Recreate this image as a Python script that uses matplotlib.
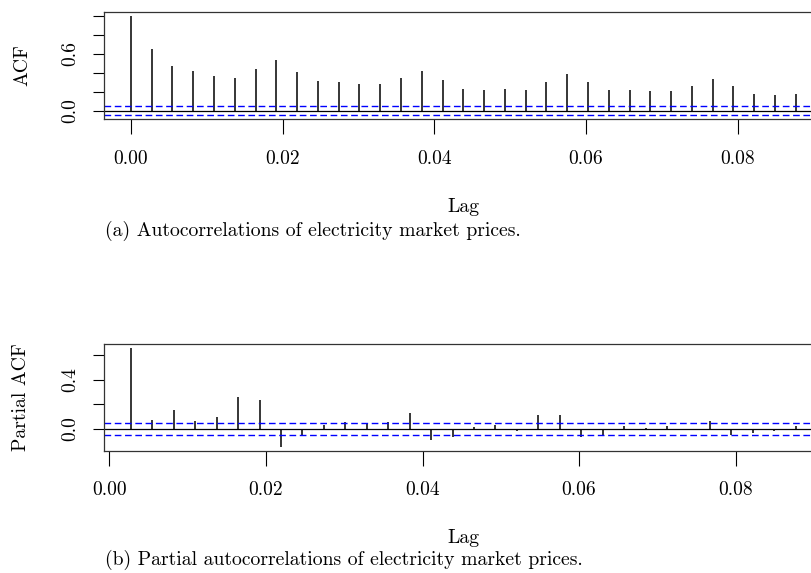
import numpy as np
import matplotlib
matplotlib.use("Agg")
from matplotlib import pyplot as plt

# daily series, lags expressed in years (frequency 365)
freq = 365
n_lags = 32
conf = 0.05

acf_vals = [1.000, 0.653, 0.470, 0.417, 0.364, 0.347, 0.442, 0.537, 0.403,
            0.312, 0.298, 0.284, 0.284, 0.347, 0.417, 0.326, 0.232, 0.221,
            0.232, 0.221, 0.298, 0.389, 0.298, 0.221, 0.221, 0.203, 0.203,
            0.256, 0.337, 0.256, 0.175, 0.164, 0.179]

pacf_vals = [0.659, 0.075, 0.155, 0.064, 0.093, 0.256, 0.237, -0.147, -0.051,
             0.032, 0.053, 0.043, 0.053, 0.133, -0.088, -0.067, 0.013, 0.032,
             -0.021, 0.112, 0.115, -0.067, -0.048, 0.024, 0.005, 0.024, 0.002,
             0.067, -0.048, -0.037, -0.016, 0.021]

x_ticks = [0.00, 0.02, 0.04, 0.06, 0.08]
x_tick_labels = ["0.00", "0.02", "0.04", "0.06", "0.08"]

plt.rcParams["font.family"] = ["cmr10", "DejaVu Serif"]
plt.rcParams["axes.formatter.use_mathtext"] = True

W, H = 812, 573
fig = plt.figure(figsize=(W / 100, H / 100), dpi=100)


def px_axes(left, top, width, height):
    return fig.add_axes([left / W, 1 - (top + height) / H, width / W, height / H])


def r_range(lo, hi):
    pad = 0.04 * (hi - lo)
    return lo - pad, hi + pad


def corr_panel(ax, lags, vals, yticks, ylabels):
    ax.vlines(lags, 0, vals, colors="black", linewidth=1.1)
    ax.axhline(0, color="black", linewidth=0.9)
    for c in (conf, -conf):
        ax.axhline(c, color="#0000ff", linewidth=1.0, linestyle=(0, (4.8, 2.6)))
    ax.set_xlim(*r_range(lags[0], lags[-1]))
    ax.set_ylim(*r_range(min(min(vals), -conf), max(max(vals), conf)))
    ax.set_xticks(x_ticks)
    ax.set_xticklabels(x_tick_labels)
    ax.set_yticks(yticks)
    ax.set_yticklabels(ylabels, rotation=90, va="center")
    ax.tick_params(axis="x", length=11, width=0.8, pad=11, labelsize=14)
    ax.tick_params(axis="y", length=8, width=0.8, pad=10, labelsize=14)
    for s in ax.spines.values():
        s.set_color("#333333")
        s.set_linewidth(0.9)


acf_lags = np.arange(0, n_lags + 1) / freq
pacf_lags = np.arange(1, n_lags + 1) / freq

ax1 = px_axes(104.3, 12, 718, 107.3)
corr_panel(ax1, acf_lags, acf_vals, [0, 0.2, 0.4, 0.6, 0.8, 1.0],
           ["0.0", "", "", "0.6", "", ""])

ax2 = px_axes(104.3, 343.7, 718, 107.3)
corr_panel(ax2, pacf_lags, pacf_vals, [0, 0.2, 0.4, 0.6],
           ["0.0", "", "0.4", ""])


def px_text(x, y, s, size=14.2, **kw):
    fig.text(x / W, 1 - y / H, s, fontsize=size, **kw)


px_text(22, 65, "ACF", rotation=90, ha="center", va="center")
px_text(21, 397, "Partial ACF", rotation=90, ha="center", va="center")
px_text(463, 207, "Lag", ha="center", va="center")
px_text(463, 538, "Lag", ha="center", va="center")
px_text(105, 231, "(a) Autocorrelations of electricity market prices.", ha="left", va="center")
px_text(105, 560, "(b) Partial autocorrelations of electricity market prices.", ha="left", va="center")

fig.savefig("out.png", dpi=100)
